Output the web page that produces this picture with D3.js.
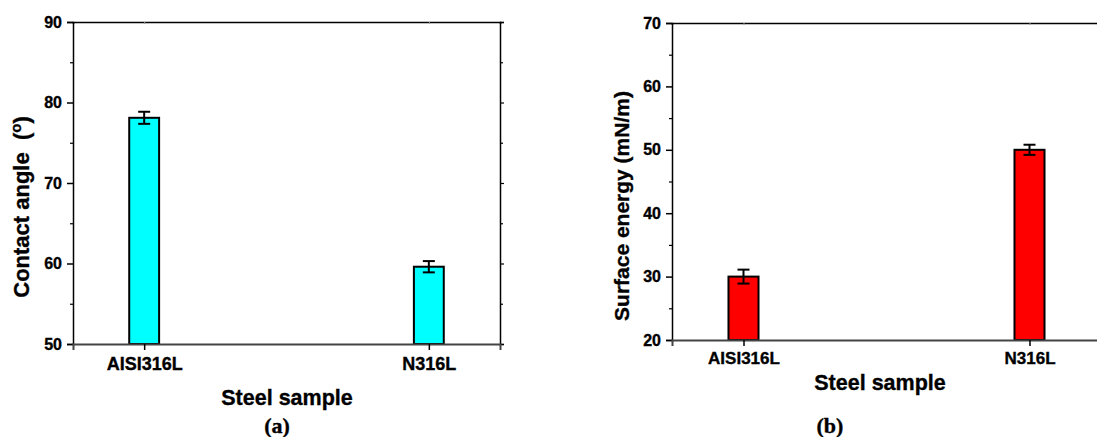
<!DOCTYPE html>
<html>
<head>
<meta charset="utf-8">
<script src="https://cdn.jsdelivr.net/npm/d3@7/dist/d3.min.js"></script>
<style>
  html, body { margin: 0; padding: 0; background: #fff; }
  svg { display: block; }
  text { font-family: "Liberation Sans", Arial, sans-serif; font-weight: bold; fill: #000; stroke: #000; stroke-width: 0.35px; }
  .serif { font-family: "Liberation Serif", "Times New Roman", serif; }
</style>
</head>
<body>
<svg id="chart" width="1097" height="437"></svg>
<script>
// ---- data ----
const categories = ["AISI316L", "N316L"];
const contactAngle = [78.1, 59.6];
const contactAngleErr = [0.75, 0.7];
const surfaceEnergy = [30.0, 50.0];
const surfaceEnergyErr = [1.1, 0.8];
const contactTicks = [50, 60, 70, 80, 90];
const contactMinor = [55, 65, 75, 85];
const energyTicks = [20, 30, 40, 50, 60, 70];
const energyMinor = [25, 35, 45, 55, 65];

const svg = d3.select("#chart");

function panel(opts) {
  const g = svg.append("g");
  const x = d3.scaleLinear().domain([0.75, 2.25]).range([opts.left, opts.right]);
  const y = d3.scaleLinear().domain(opts.domain).range([opts.bottom, opts.top]);
  const bw = x(1.0525) - x(0.9475);
  const idx = categories.map((c, i) => i + 1);

  // bars
  g.selectAll("rect.bar").data(opts.values).enter().append("rect")
    .attr("class", "bar")
    .attr("x", (d, i) => x(idx[i]) - bw / 2)
    .attr("width", bw)
    .attr("y", d => y(d))
    .attr("height", d => y(opts.domain[0]) - y(d))
    .attr("fill", opts.color)
    .attr("stroke", "#000")
    .attr("stroke-width", 2);

  // error bars
  const eb = g.selectAll("g.err").data(opts.values).enter().append("g").attr("class", "err");
  eb.append("line")
    .attr("x1", (d, i) => x(idx[i])).attr("x2", (d, i) => x(idx[i]))
    .attr("y1", (d, i) => y(d + opts.errs[i])).attr("y2", (d, i) => y(d - opts.errs[i]))
    .attr("stroke", "#000").attr("stroke-width", 2);
  [1, -1].forEach(s => {
    eb.append("line")
      .attr("x1", (d, i) => x(idx[i]) - 6).attr("x2", (d, i) => x(idx[i]) + 6)
      .attr("y1", (d, i) => y(d + s * opts.errs[i])).attr("y2", (d, i) => y(d + s * opts.errs[i]))
      .attr("stroke", "#000").attr("stroke-width", 2);
  });

  // left axis major
  const yAxis = d3.axisLeft(y).tickValues(opts.ticks).tickSize(6).tickPadding(5).tickFormat(d3.format("d"));
  const ga = g.append("g").attr("transform", `translate(${opts.left},0)`).call(yAxis);
  ga.select(".domain").attr("stroke", "#000").attr("stroke-width", 1.5);
  ga.selectAll(".tick line").attr("stroke", "#000").attr("stroke-width", 1.5);
  ga.selectAll(".tick text").style("font-size", "16px").style("font-family", '"Liberation Sans", Arial, sans-serif').style("font-weight", "bold");
  // left axis minor
  const gm = g.append("g").attr("transform", `translate(${opts.left},0)`)
    .call(d3.axisLeft(y).tickValues(opts.minor).tickSize(3).tickFormat(""));
  gm.select(".domain").remove();
  gm.selectAll(".tick line").attr("stroke", "#000").attr("stroke-width", 1.2);

  // right axis (if visible)
  if (opts.right <= 1097) {
    const gr = g.append("g").attr("transform", `translate(${opts.right},0)`)
      .call(d3.axisLeft(y).tickValues(opts.ticks).tickSize(-4).tickFormat(""));
    gr.select(".domain").attr("stroke", "#000").attr("stroke-width", 1.5);
    gr.selectAll(".tick line").attr("stroke", "#000").attr("stroke-width", 1.2);
    const grm = g.append("g").attr("transform", `translate(${opts.right},0)`)
      .call(d3.axisLeft(y).tickValues(opts.minor).tickSize(-3).tickFormat(""));
    grm.select(".domain").remove();
    grm.selectAll(".tick line").attr("stroke", "#000").attr("stroke-width", 1.2);
  }

  // top axis
  const gt = g.append("g").attr("transform", `translate(0,${opts.top})`)
    .call(d3.axisBottom(x).tickValues(idx).tickSize(2).tickFormat(""));
  gt.select(".domain").attr("stroke", "#000").attr("stroke-width", 1.5);
  gt.selectAll(".tick line").attr("stroke", "#999").attr("stroke-width", 1);

  // bottom axis
  const xAxis = d3.axisBottom(x).tickValues(idx).tickSize(6).tickPadding(opts.xPad)
    .tickFormat((d, i) => categories[i]);
  const gb = g.append("g").attr("transform", `translate(0,${opts.bottom})`).call(xAxis);
  gb.select(".domain").attr("stroke", "#444").attr("stroke-width", 2);
  gb.selectAll(".tick line").attr("stroke", "#000").attr("stroke-width", 1.5);
  gb.selectAll(".tick text").style("font-size", opts.xFont + "px").style("font-family", '"Liberation Sans", Arial, sans-serif').style("font-weight", "bold");

  return { g, x, y };
}

// Panel (a)
const pa = panel({
  left: 73, right: 500, top: 22, bottom: 344,
  domain: [50, 90], ticks: contactTicks, minor: contactMinor,
  values: contactAngle, errs: contactAngleErr, color: "#00FFFF",
  xFont: 18, xPad: 7
});
const ta = svg.append("text")
  .attr("transform", "translate(29,207) rotate(-90)")
  .attr("text-anchor", "middle")
  .style("font-size", "22px");
ta.append("tspan").text("Contact angle\u00A0\u00A0(");
ta.append("tspan").text("o").attr("baseline-shift", "super").style("font-size", "15px");
ta.append("tspan").text(")");
svg.append("text").attr("x", 287).attr("y", 405).attr("text-anchor", "middle")
  .style("font-size", "21.5px").text("Steel sample");
svg.append("text").attr("class", "serif").attr("x", 277).attr("y", 433).attr("text-anchor", "middle")
  .style("font-size", "22px").text("(a)");

// Panel (b)
const pb = panel({
  left: 672, right: 1101, top: 23, bottom: 340,
  domain: [20, 70], ticks: energyTicks, minor: energyMinor,
  values: surfaceEnergy, errs: surfaceEnergyErr, color: "#FF0000",
  xFont: 17, xPad: 6
});
svg.append("text")
  .attr("transform", "translate(629,206) rotate(-90)")
  .attr("text-anchor", "middle")
  .style("font-size", "21px")
  .text("Surface energy (mN/m)");
svg.append("text").attr("x", 880).attr("y", 390).attr("text-anchor", "middle")
  .style("font-size", "21.5px").text("Steel sample");
svg.append("text").attr("class", "serif").attr("x", 830).attr("y", 433).attr("text-anchor", "middle")
  .style("font-size", "22px").text("(b)");
</script>
</body>
</html>
